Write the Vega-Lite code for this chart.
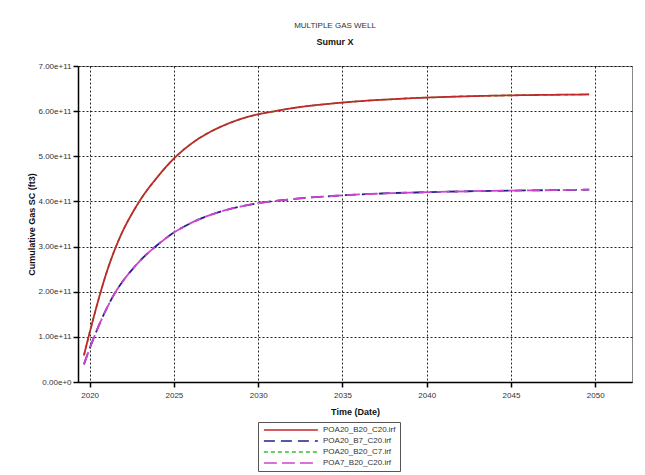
{
  "$schema": "https://vega.github.io/schema/vega-lite/v6.json",
  "width": 554,
  "height": 316,
  "padding": {"left": 27, "top": 22, "right": 10, "bottom": 5},
  "background": "white",
  "title": {
    "text": "MULTIPLE GAS WELL",
    "subtitle": "Sumur X",
    "anchor": "middle",
    "dx": -20,
    "font": "Liberation Sans",
    "fontSize": 8,
    "fontWeight": "normal",
    "color": "#333333",
    "subtitleFont": "Liberation Sans",
    "subtitleFontSize": 9,
    "subtitleFontWeight": "bold",
    "subtitleColor": "#111111",
    "subtitlePadding": 8,
    "offset": 15
  },
  "config": {
    "font": "Liberation Sans",
    "view": {"stroke": "#888888", "strokeWidth": 1},
    "axis": {
      "domainColor": "#000000",
      "domainWidth": 1.5,
      "tickColor": "#000000",
      "tickWidth": 1.5,
      "tickSize": 5,
      "labelFont": "Liberation Sans",
      "labelFontSize": 8,
      "labelColor": "#333333",
      "titleFont": "Liberation Sans",
      "titleFontSize": 9,
      "titleFontWeight": "bold",
      "titleColor": "#111111",
      "gridColor": "#000000",
      "gridDash": [2, 2],
      "gridOpacity": 0.85,
      "gridWidth": 1
    },
    "legend": {
      "strokeColor": "#555555",
      "fillColor": "white",
      "padding": 4,
      "labelFont": "Liberation Sans",
      "labelFontSize": 8,
      "labelColor": "#333333"
    }
  },
  "data": {
    "values": [
      {"series": "POA20_B20_C20.irf", "year": 2019.66, "value": 59000000000},
      {"series": "POA20_B20_C20.irf", "year": 2020.0, "value": 109000000000},
      {"series": "POA20_B20_C20.irf", "year": 2020.5, "value": 179000000000},
      {"series": "POA20_B20_C20.irf", "year": 2021.0, "value": 242000000000},
      {"series": "POA20_B20_C20.irf", "year": 2021.5, "value": 294000000000},
      {"series": "POA20_B20_C20.irf", "year": 2022.0, "value": 337000000000},
      {"series": "POA20_B20_C20.irf", "year": 2022.5, "value": 372000000000},
      {"series": "POA20_B20_C20.irf", "year": 2023.0, "value": 403000000000},
      {"series": "POA20_B20_C20.irf", "year": 2024.0, "value": 453000000000},
      {"series": "POA20_B20_C20.irf", "year": 2025.0, "value": 495000000000},
      {"series": "POA20_B20_C20.irf", "year": 2026.0, "value": 527000000000},
      {"series": "POA20_B20_C20.irf", "year": 2027.0, "value": 551000000000},
      {"series": "POA20_B20_C20.irf", "year": 2028.0, "value": 569000000000},
      {"series": "POA20_B20_C20.irf", "year": 2029.0, "value": 583000000000},
      {"series": "POA20_B20_C20.irf", "year": 2030.0, "value": 593000000000},
      {"series": "POA20_B20_C20.irf", "year": 2031.0, "value": 600000000000},
      {"series": "POA20_B20_C20.irf", "year": 2032.0, "value": 606500000000},
      {"series": "POA20_B20_C20.irf", "year": 2033.0, "value": 611500000000},
      {"series": "POA20_B20_C20.irf", "year": 2034.0, "value": 615500000000},
      {"series": "POA20_B20_C20.irf", "year": 2035.0, "value": 619000000000},
      {"series": "POA20_B20_C20.irf", "year": 2036.0, "value": 622000000000},
      {"series": "POA20_B20_C20.irf", "year": 2037.0, "value": 624500000000},
      {"series": "POA20_B20_C20.irf", "year": 2038.0, "value": 626500000000},
      {"series": "POA20_B20_C20.irf", "year": 2039.0, "value": 628500000000},
      {"series": "POA20_B20_C20.irf", "year": 2040.0, "value": 630000000000},
      {"series": "POA20_B20_C20.irf", "year": 2042.5, "value": 633000000000},
      {"series": "POA20_B20_C20.irf", "year": 2045.0, "value": 635000000000},
      {"series": "POA20_B20_C20.irf", "year": 2047.5, "value": 636200000000},
      {"series": "POA20_B20_C20.irf", "year": 2049.64, "value": 637000000000},

      {"series": "POA20_B20_C7.irf", "year": 2019.66, "value": 59000000000},
      {"series": "POA20_B20_C7.irf", "year": 2020.0, "value": 109000000000},
      {"series": "POA20_B20_C7.irf", "year": 2020.5, "value": 179000000000},
      {"series": "POA20_B20_C7.irf", "year": 2021.0, "value": 242000000000},
      {"series": "POA20_B20_C7.irf", "year": 2021.5, "value": 294000000000},
      {"series": "POA20_B20_C7.irf", "year": 2022.0, "value": 337000000000},
      {"series": "POA20_B20_C7.irf", "year": 2022.5, "value": 372000000000},
      {"series": "POA20_B20_C7.irf", "year": 2023.0, "value": 403000000000},
      {"series": "POA20_B20_C7.irf", "year": 2024.0, "value": 453000000000},
      {"series": "POA20_B20_C7.irf", "year": 2025.0, "value": 495000000000},
      {"series": "POA20_B20_C7.irf", "year": 2026.0, "value": 527000000000},
      {"series": "POA20_B20_C7.irf", "year": 2027.0, "value": 551000000000},
      {"series": "POA20_B20_C7.irf", "year": 2028.0, "value": 569000000000},
      {"series": "POA20_B20_C7.irf", "year": 2029.0, "value": 583000000000},
      {"series": "POA20_B20_C7.irf", "year": 2030.0, "value": 593000000000},
      {"series": "POA20_B20_C7.irf", "year": 2031.0, "value": 600000000000},
      {"series": "POA20_B20_C7.irf", "year": 2032.0, "value": 606500000000},
      {"series": "POA20_B20_C7.irf", "year": 2033.0, "value": 611500000000},
      {"series": "POA20_B20_C7.irf", "year": 2034.0, "value": 615500000000},
      {"series": "POA20_B20_C7.irf", "year": 2035.0, "value": 619000000000},
      {"series": "POA20_B20_C7.irf", "year": 2036.0, "value": 622000000000},
      {"series": "POA20_B20_C7.irf", "year": 2037.0, "value": 624500000000},
      {"series": "POA20_B20_C7.irf", "year": 2038.0, "value": 626500000000},
      {"series": "POA20_B20_C7.irf", "year": 2039.0, "value": 628500000000},
      {"series": "POA20_B20_C7.irf", "year": 2040.0, "value": 630000000000},
      {"series": "POA20_B20_C7.irf", "year": 2042.5, "value": 633000000000},
      {"series": "POA20_B20_C7.irf", "year": 2045.0, "value": 635000000000},
      {"series": "POA20_B20_C7.irf", "year": 2047.5, "value": 636200000000},
      {"series": "POA20_B20_C7.irf", "year": 2049.64, "value": 637000000000},

      {"series": "POA20_B7_C20.irf", "year": 2019.66, "value": 39000000000},
      {"series": "POA20_B7_C20.irf", "year": 2020.0, "value": 74000000000},
      {"series": "POA20_B7_C20.irf", "year": 2020.5, "value": 121000000000},
      {"series": "POA20_B7_C20.irf", "year": 2021.0, "value": 162000000000},
      {"series": "POA20_B7_C20.irf", "year": 2021.5, "value": 197000000000},
      {"series": "POA20_B7_C20.irf", "year": 2022.0, "value": 225000000000},
      {"series": "POA20_B7_C20.irf", "year": 2022.5, "value": 248000000000},
      {"series": "POA20_B7_C20.irf", "year": 2023.0, "value": 269000000000},
      {"series": "POA20_B7_C20.irf", "year": 2024.0, "value": 303000000000},
      {"series": "POA20_B7_C20.irf", "year": 2025.0, "value": 331000000000},
      {"series": "POA20_B7_C20.irf", "year": 2026.0, "value": 352000000000},
      {"series": "POA20_B7_C20.irf", "year": 2027.0, "value": 368000000000},
      {"series": "POA20_B7_C20.irf", "year": 2028.0, "value": 380000000000},
      {"series": "POA20_B7_C20.irf", "year": 2029.0, "value": 389000000000},
      {"series": "POA20_B7_C20.irf", "year": 2030.0, "value": 396000000000},
      {"series": "POA20_B7_C20.irf", "year": 2031.0, "value": 401000000000},
      {"series": "POA20_B7_C20.irf", "year": 2032.0, "value": 405000000000},
      {"series": "POA20_B7_C20.irf", "year": 2033.0, "value": 408500000000},
      {"series": "POA20_B7_C20.irf", "year": 2034.0, "value": 411000000000},
      {"series": "POA20_B7_C20.irf", "year": 2035.0, "value": 413500000000},
      {"series": "POA20_B7_C20.irf", "year": 2036.0, "value": 415500000000},
      {"series": "POA20_B7_C20.irf", "year": 2037.0, "value": 417000000000},
      {"series": "POA20_B7_C20.irf", "year": 2038.0, "value": 418500000000},
      {"series": "POA20_B7_C20.irf", "year": 2039.0, "value": 419500000000},
      {"series": "POA20_B7_C20.irf", "year": 2040.0, "value": 420500000000},
      {"series": "POA20_B7_C20.irf", "year": 2042.5, "value": 422500000000},
      {"series": "POA20_B7_C20.irf", "year": 2045.0, "value": 424000000000},
      {"series": "POA20_B7_C20.irf", "year": 2047.5, "value": 425000000000},
      {"series": "POA20_B7_C20.irf", "year": 2049.64, "value": 426000000000},

      {"series": "POA7_B20_C20.irf", "year": 2019.66, "value": 39000000000},
      {"series": "POA7_B20_C20.irf", "year": 2020.0, "value": 74000000000},
      {"series": "POA7_B20_C20.irf", "year": 2020.5, "value": 121000000000},
      {"series": "POA7_B20_C20.irf", "year": 2021.0, "value": 162000000000},
      {"series": "POA7_B20_C20.irf", "year": 2021.5, "value": 197000000000},
      {"series": "POA7_B20_C20.irf", "year": 2022.0, "value": 225000000000},
      {"series": "POA7_B20_C20.irf", "year": 2022.5, "value": 248000000000},
      {"series": "POA7_B20_C20.irf", "year": 2023.0, "value": 269000000000},
      {"series": "POA7_B20_C20.irf", "year": 2024.0, "value": 303000000000},
      {"series": "POA7_B20_C20.irf", "year": 2025.0, "value": 331000000000},
      {"series": "POA7_B20_C20.irf", "year": 2026.0, "value": 352000000000},
      {"series": "POA7_B20_C20.irf", "year": 2027.0, "value": 368000000000},
      {"series": "POA7_B20_C20.irf", "year": 2028.0, "value": 380000000000},
      {"series": "POA7_B20_C20.irf", "year": 2029.0, "value": 389000000000},
      {"series": "POA7_B20_C20.irf", "year": 2030.0, "value": 396000000000},
      {"series": "POA7_B20_C20.irf", "year": 2031.0, "value": 401000000000},
      {"series": "POA7_B20_C20.irf", "year": 2032.0, "value": 405000000000},
      {"series": "POA7_B20_C20.irf", "year": 2033.0, "value": 408500000000},
      {"series": "POA7_B20_C20.irf", "year": 2034.0, "value": 411000000000},
      {"series": "POA7_B20_C20.irf", "year": 2035.0, "value": 413500000000},
      {"series": "POA7_B20_C20.irf", "year": 2036.0, "value": 415500000000},
      {"series": "POA7_B20_C20.irf", "year": 2037.0, "value": 417000000000},
      {"series": "POA7_B20_C20.irf", "year": 2038.0, "value": 418500000000},
      {"series": "POA7_B20_C20.irf", "year": 2039.0, "value": 419500000000},
      {"series": "POA7_B20_C20.irf", "year": 2040.0, "value": 420500000000},
      {"series": "POA7_B20_C20.irf", "year": 2042.5, "value": 422500000000},
      {"series": "POA7_B20_C20.irf", "year": 2045.0, "value": 424000000000},
      {"series": "POA7_B20_C20.irf", "year": 2047.5, "value": 425000000000},
      {"series": "POA7_B20_C20.irf", "year": 2049.64, "value": 426000000000}
    ]
  },
  "encoding": {
    "x": {
      "field": "year",
      "type": "quantitative",
      "title": "Time (Date)",
      "scale": {"domain": [2019.31, 2052.18], "nice": false, "zero": false},
      "axis": {"values": [2020, 2025, 2030, 2035, 2040, 2045, 2050], "format": "d", "labelPadding": 4, "titlePadding": 8}
    },
    "y": {
      "field": "value",
      "type": "quantitative",
      "title": "Cumulative Gas SC (ft3)",
      "scale": {"domain": [0, 700000000000], "nice": false},
      "axis": {
        "values": [0, 100000000000, 200000000000, 300000000000, 400000000000, 500000000000, 600000000000, 700000000000],
        "format": ".2e",
        "labelPadding": 2,
        "titlePadding": 2
      }
    },
    "color": {
      "field": "series",
      "type": "nominal",
      "title": null,
      "scale": {
        "domain": ["POA20_B20_C20.irf", "POA20_B7_C20.irf", "POA20_B20_C7.irf", "POA7_B20_C20.irf"],
        "range": ["#c0282a", "#20208c", "#33c033", "#cc44cc"]
      },
      "legend": {
        "orient": "none",
        "legendX": 180,
        "legendY": 356,
        "direction": "vertical",
        "symbolType": "M-0.7,0H17.3",
        "symbolSize": 36,
        "symbolStrokeWidth": 1.6,
        "labelOffset": 53,
        "rowPadding": 3
      }
    },
    "strokeDash": {
      "field": "series",
      "type": "nominal",
      "title": null,
      "scale": {
        "domain": ["POA20_B20_C20.irf", "POA20_B7_C20.irf", "POA20_B20_C7.irf", "POA7_B20_C20.irf"],
        "range": [[1, 0], [11, 6], [4, 3], [13, 5]]
      }
    }
  },
  "layer": [
    {
      "transform": [{"filter": "datum.series === 'POA20_B20_C7.irf'"}],
      "mark": {"type": "line", "interpolate": "monotone", "strokeWidth": 1.6}
    },
    {
      "transform": [{"filter": "datum.series === 'POA20_B20_C20.irf'"}],
      "mark": {"type": "line", "interpolate": "monotone", "strokeWidth": 1.8}
    },
    {
      "transform": [{"filter": "datum.series === 'POA20_B7_C20.irf'"}],
      "mark": {"type": "line", "interpolate": "monotone", "strokeWidth": 1.8}
    },
    {
      "transform": [{"filter": "datum.series === 'POA7_B20_C20.irf'"}],
      "mark": {"type": "line", "interpolate": "monotone", "strokeWidth": 1.8}
    }
  ]
}
